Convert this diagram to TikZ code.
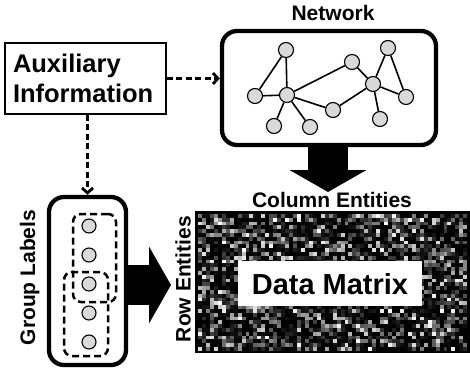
\documentclass[tikz,border=0pt]{standalone}
\usepackage{fontspec}
\setmainfont{Liberation Sans}
\usetikzlibrary{arrows.meta}
\definecolor{nodegray}{RGB}{217,217,217}
\tikzset{
  lbl/.style={font=\fontsize{21}{25}\selectfont\bfseries, inner sep=0pt},
  bigbox/.style={draw, line width=4.3pt, rounded corners=15pt, inner sep=0pt},
  netnode/.style={circle, draw, line width=1.1pt, fill=nodegray, minimum size=15pt, inner sep=0pt},
  grpnode/.style={circle, draw, line width=1.1pt, fill=nodegray, minimum size=14pt, inner sep=0pt},
  netedge/.style={line width=1.6pt},
  grpframe/.style={draw, line width=2.5pt, dash pattern=on 7pt off 4pt, rounded corners=8pt, inner sep=0pt},
  dasharrow/.style={line width=2.8pt, dash pattern=on 6pt off 3.5pt, -{Straight Barb[length=5pt,width=11pt]}},
  bigarrow/.style={line width=40pt, -{Triangle[length=22pt,width=76pt]}},
}
\begin{document}
\begin{tikzpicture}[x=1pt, y=-1pt]
\useasboundingbox (0,0) rectangle (470,374);

% Auxiliary information box
\node[draw, line width=1.5pt, minimum width=161pt, minimum height=71pt, inner sep=0pt,
      text width=145pt, align=left, font=\fontsize{25.5}{30}\selectfont\bfseries]
      (aux) at (85.5,78.5) {Auxiliary\\Information};

% Network
\node[lbl, anchor=base] (nettitle) at (333,20.7) {Network};
\node[bigbox, minimum width=214pt, minimum height=114pt] (netbox) at (329,88) {};
\node[netnode] (n1) at (286,50) {};
\node[netnode] (n2) at (255,96) {};
\node[netnode] (n3) at (287,95) {};
\node[netnode] (n4) at (274,126) {};
\node[netnode] (n5) at (310,127) {};
\node[netnode] (n6) at (333,110) {};
\node[netnode] (n7) at (352,62) {};
\node[netnode] (n8) at (373,84) {};
\node[netnode] (n9) at (388,48) {};
\node[netnode] (n10) at (406,97) {};
\node[netnode] (n11) at (380,119) {};
\draw[netedge] (n1) -- (n2);
\draw[netedge] (n1) -- (n3);
\draw[netedge] (n2) -- (n3);
\draw[netedge] (n3) -- (n4);
\draw[netedge] (n3) -- (n5);
\draw[netedge] (n3) -- (n6);
\draw[netedge] (n3) -- (n7);
\draw[netedge] (n6) -- (n8);
\draw[netedge] (n7) -- (n8);
\draw[netedge] (n8) -- (n9);
\draw[netedge] (n9) -- (n10);
\draw[netedge] (n8) -- (n10);
\draw[netedge] (n8) -- (n11);

% Group labels
\node[bigbox, minimum width=77pt, minimum height=168pt] (gbox) at (87.5,281) {};
\node[grpframe, minimum width=43pt, minimum height=88pt] (gf1) at (94.5,258) {};
\node[grpframe, minimum width=44pt, minimum height=84pt] (gf2) at (86,314) {};
\node[grpnode] (g1) at (89,226) {};
\node[grpnode] (g2) at (89,255) {};
\node[grpnode] (g3) at (89,284) {};
\node[grpnode] (g4) at (89,313) {};
\node[grpnode] (g5) at (89,342) {};
\node[lbl, rotate=90, anchor=base] (glbl) at (35.2,277.5) {Group Labels};

% Data matrix
\node[draw, fill=black, line width=2pt, minimum width=271pt, minimum height=138pt, inner sep=0pt] (dm) at (332.5,282) {};
\begin{scope}
\clip (198,214) rectangle (467,350);
\pgfmathsetseed{4711}
\foreach \i in {0,...,67}{
  \foreach \j in {0,...,35}{
    \pgfmathtruncatemacro\b{100*pow(rnd,3.6)}
    \fill[white!\b!black] (198+\i*3.96,214+\j*3.8) rectangle ++(4.1,4.0);
  }
}
\end{scope}
\draw[line width=2pt] (dm.north west) rectangle (dm.south east);
\node[fill=white, minimum width=184pt, minimum height=45pt, inner sep=0pt] (dmbox) at (330,283.5) {};
\node[anchor=base, font=\fontsize{29}{34}\selectfont\bfseries, inner sep=0pt] (dmtext) at (330,294) {Data Matrix};
\node[lbl, anchor=base] (col) at (332,207) {Column Entities};
\node[lbl, rotate=90, anchor=base] (row) at (190.5,279) {Row Entities};

% Connectors
\draw[dasharrow] (aux.east) -- (netbox.west |- aux.east);
\draw[dasharrow] (aux.south -| gbox.north) -- (gbox.north);
\coordinate (dtip) at (328,192);
\coordinate (rtip) at (171,285);
\draw[bigarrow] (netbox.south -| dtip) -- (dtip);
\draw[bigarrow] (gbox.east |- rtip) -- (rtip);
\end{tikzpicture}
\end{document}
